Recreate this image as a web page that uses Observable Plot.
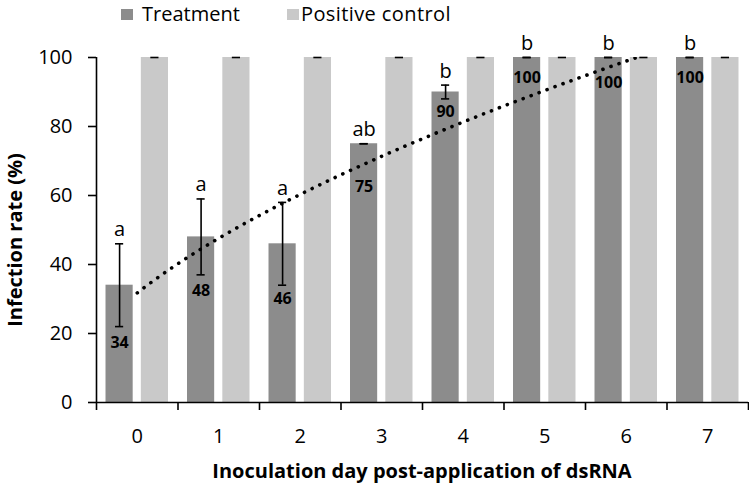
<!DOCTYPE html>
<html>
<head>
<meta charset="utf-8">
<script src="https://cdn.jsdelivr.net/npm/d3@7"></script>
<script src="https://cdn.jsdelivr.net/npm/@observablehq/plot@0.6"></script>
<style>
  body { margin: 0; background: #fff; font-family: "Open Sans", sans-serif; color: #000; }
  #wrap { position: relative; width: 749px; height: 489px; overflow: hidden; }
  #wrap svg { position: absolute; left: 0; top: 0; }
  .leg { position: absolute; top: 0px; font-size: 20px; line-height: normal; white-space: nowrap; }
  .sw { position: absolute; width: 12px; height: 11px; top: 9px; }
  .ytitle { position: absolute; left: 14px; top: 240px; transform: translate(-50%, -50%) rotate(-90deg); font-weight: bold; font-size: 20px; white-space: nowrap; }
  .xtitle { position: absolute; left: 422px; top: 470px; transform: translate(-50%, -50%); font-weight: bold; font-size: 20px; white-space: nowrap; }
</style>
</head>
<body>
<div id="wrap">
  <div class="sw" style="left:121px;background:#8c8c8c"></div>
  <div class="leg" style="left:142px">Treatment</div>
  <div class="sw" style="left:287px;background:#c9c9c9"></div>
  <div class="leg" style="left:301px;letter-spacing:0.4px">Positive control</div>
  <div class="ytitle">Infection rate (%)</div>
  <div class="xtitle">Inoculation day post-application of dsRNA</div>
</div>
<script>
const days = [0, 1, 2, 3, 4, 5, 6, 7];
const treatment = [34, 48, 46, 75, 90, 100, 100, 100];
const treatmentLow = [22, 37, 34, 75, 88, 100, 100, 100];
const treatmentHigh = [46, 59, 58, 75, 92, 100, 100, 100];
const control = [100, 100, 100, 100, 100, 100, 100, 100];
const letters = ["a", "a", "a", "ab", "b", "b", "b", "b"];
const labelPos = [17.2, 32.3, 29.9, 62.6, 84.2, 94.1, 92.6, 94.1];
const yTicks = [0, 20, 40, 60, 80, 100];

const TREAT_COLOR = "#8c8c8c";
const CTRL_COLOR = "#c9c9c9";
// bar layout within each category (category units)
const tA = -0.3833, tB = -0.05, cA = 0.05, cB = 0.3833;
const tC = (tA + tB) / 2, cC = (cA + cB) / 2;
const capHalf = 0.05;

const rows = days.map((d, i) => ({
  day: d, treatment: treatment[i], low: treatmentLow[i], high: treatmentHigh[i],
  control: control[i], letter: letters[i], labelPos: labelPos[i]
}));

// power trendline (y = a * x^b, x = 1..n) fitted to treatment means
const lx = days.map(d => Math.log(d + 1));
const ly = treatment.map(v => Math.log(v));
const mx = d3.mean(lx), my = d3.mean(ly);
const b = d3.sum(lx.map((v, i) => (v - mx) * (ly[i] - my))) / d3.sum(lx.map(v => (v - mx) ** 2));
const a = Math.exp(my - b * mx);
const trend = d3.range(0, 7.0001, 0.02).map(t => ({day: t, value: a * Math.pow(t + 1, b)}));

const boundaries = d3.range(-0.5, 7.51, 1);

const plot = Plot.plot({
  width: 749, height: 489,
  marginLeft: 96, marginRight: 1, marginTop: 57, marginBottom: 87,
  x: {domain: [-0.5, 7.5]},
  y: {domain: [0, 100]},
  style: {fontFamily: "Open Sans", fontSize: "20px", color: "#000", background: "transparent", overflow: "visible"},
  marks: [
    Plot.rect(rows, {x1: d => d.day + tA, x2: d => d.day + tB, y1: 0, y2: "treatment", fill: TREAT_COLOR}),
    Plot.rect(rows, {x1: d => d.day + cA, x2: d => d.day + cB, y1: 0, y2: "control", fill: CTRL_COLOR}),
    Plot.line(trend, {x: "day", y: "value", stroke: "#000", strokeWidth: 3.6, strokeDasharray: "0.1,8.4", strokeLinecap: "round", clip: true}),
    Plot.ruleX(rows, {x: d => d.day + tC, y1: "low", y2: "high", stroke: "#000", strokeWidth: 1.6}),
    Plot.ruleY(rows, {y: "low", x1: d => d.day + tC - capHalf, x2: d => d.day + tC + capHalf, stroke: "#000", strokeWidth: 1.6}),
    Plot.ruleY(rows, {y: "high", x1: d => d.day + tC - capHalf, x2: d => d.day + tC + capHalf, stroke: "#000", strokeWidth: 1.6}),
    Plot.ruleY(rows, {y: "control", x1: d => d.day + cC - capHalf, x2: d => d.day + cC + capHalf, stroke: "#000", strokeWidth: 1.6}),
    Plot.text(rows, {x: d => d.day + tC, y: "high", text: "letter", dy: -14, fontSize: 20, lineAnchor: "middle", fill: "#000"}),
    Plot.text(rows, {x: d => d.day + tC, y: "labelPos", text: d => String(d.treatment), fontSize: 16, fontWeight: "bold", lineAnchor: "middle", fill: "#000"}),
    Plot.axisY({ticks: yTicks, tickSize: 8, tickPadding: 16, fontSize: 20, label: null, stroke: "#000", strokeWidth: 1.6}),
    Plot.axisX({ticks: boundaries, tickSize: 8, tickFormat: () => "", label: null, strokeWidth: 1.6}),
    Plot.axisX({ticks: days, tickSize: 0, tickPadding: 26, fontSize: 20, label: null, tickFormat: d => String(d)}),
    Plot.ruleX([-0.5], {stroke: "#000", strokeWidth: 1.6}),
    Plot.ruleY([0], {stroke: "#000", strokeWidth: 1.6})
  ]
});
document.getElementById("wrap").prepend(plot);
</script>
</body>
</html>
